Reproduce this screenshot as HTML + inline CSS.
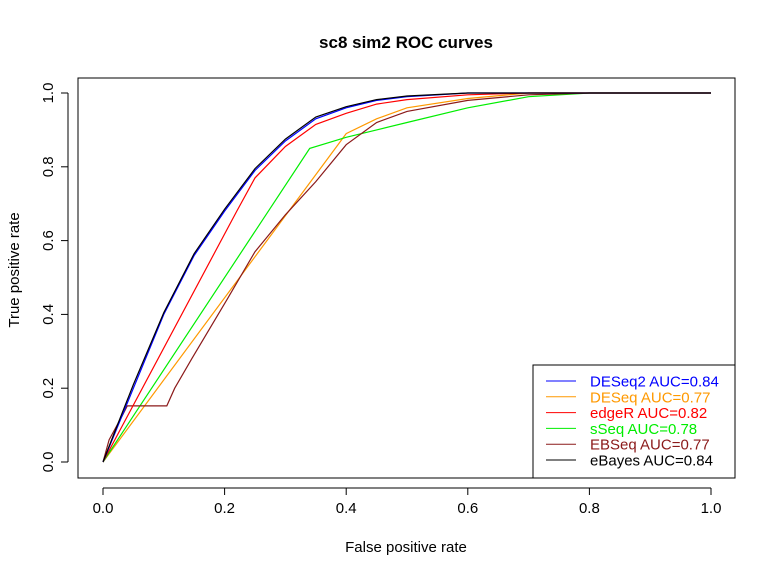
<!DOCTYPE html>
<html><head><meta charset="utf-8">
<style>body{margin:0;background:#fff}svg{display:block;font-family:"Liberation Sans",Arial,sans-serif}</style>
</head><body>
<svg id="chart" width="776" height="575">
<text x="406" y="48" text-anchor="middle" font-size="17" font-weight="bold">sc8 sim2 ROC curves</text>
<rect x="78" y="78" width="657" height="400" fill="none" stroke="#000"/>
<text x="406" y="552" text-anchor="middle" font-size="15">False positive rate</text>
<text transform="translate(19,270) rotate(-90)" text-anchor="middle" font-size="15">True positive rate</text>
<g id="axes"></g><g id="series"></g><g id="legend"></g>
</svg>
<script>
const ticks=[0,0.2,0.4,0.6,0.8,1.0];
const tickLabels=["0.0","0.2","0.4","0.6","0.8","1.0"];
const seriesNames=["DESeq2 AUC=0.84","DESeq AUC=0.77","edgeR AUC=0.82","sSeq AUC=0.78","EBSeq AUC=0.77","eBayes AUC=0.84"];
const seriesColors=["#0000ff","#ff9900","#ff0000","#00ee00","#8b1a1a","#000000"];
const fprDESeq2=[0,0.02,0.05,0.1,0.15,0.2,0.25,0.3,0.35,0.4,0.45,0.5,0.6,0.7,0.8,1];
const tprDESeq2=[0,0.08,0.2,0.4,0.56,0.68,0.79,0.87,0.93,0.96,0.98,0.99,1,1,1,1];
const fprDESeq=[0,0.4,0.45,0.5,0.6,0.7,1];
const tprDESeq=[0,0.89,0.93,0.96,0.985,1,1];
const fprEdgeR=[0,0.22,0.25,0.3,0.35,0.4,0.45,0.5,0.6,0.7,1];
const tprEdgeR=[0,0.68,0.77,0.855,0.915,0.945,0.97,0.982,0.995,1,1];
const fprSSeq=[0,0.34,0.4,0.45,0.5,0.6,0.7,0.8,1];
const tprSSeq=[0,0.85,0.88,0.9,0.92,0.96,0.99,1,1];
const fprEBSeq=[0,0.01,0.03,0.04,0.105,0.118,0.146,0.204,0.25,0.3,0.35,0.4,0.45,0.5,0.6,0.7,0.8,1];
const tprEBSeq=[0,0.06,0.12,0.152,0.152,0.2,0.28,0.44,0.57,0.67,0.76,0.86,0.92,0.95,0.98,0.995,1,1];
const fprEBayes=[0,0.02,0.05,0.1,0.15,0.2,0.25,0.3,0.35,0.4,0.45,0.5,0.6,0.7,0.8,1];
const tprEBayes=[0,0.085,0.21,0.405,0.565,0.685,0.795,0.875,0.935,0.963,0.982,0.992,1,1,1,1];
const X=v=>103+v*608, Y=v=>462-v*369;
const NS="http://www.w3.org/2000/svg";
const axes=document.getElementById('axes');
function mk(t,a,p){const e=document.createElementNS(NS,t);for(const k in a)e.setAttribute(k,a[k]);p.appendChild(e);return e;}
mk('line',{x1:X(0),x2:X(1),y1:488,y2:488,stroke:'#000'},axes);
mk('line',{x1:68,x2:68,y1:Y(0),y2:Y(1),stroke:'#000'},axes);
ticks.forEach((t,i)=>{
 mk('line',{x1:X(t),x2:X(t),y1:488,y2:495,stroke:'#000'},axes);
 const tx=mk('text',{x:X(t),y:513,'text-anchor':'middle','font-size':15},axes);tx.textContent=tickLabels[i];
 
 
 mk('line',{x1:61,x2:68,y1:Y(t),y2:Y(t),stroke:'#000'},axes);
 const ty=mk('text',{transform:`translate(53,${Y(t)}) rotate(-90)`,'text-anchor':'middle','font-size':15},axes);ty.textContent=tickLabels[i];
 
 
});
const sx=[fprDESeq2,fprDESeq,fprEdgeR,fprSSeq,fprEBSeq,fprEBayes];
const sy=[tprDESeq2,tprDESeq,tprEdgeR,tprSSeq,tprEBSeq,tprEBayes];
const sg=document.getElementById('series');
const order=[1,3,4,2,0,5];
order.forEach(i=>{
 const d=sx[i].map((v,j)=>(j?'L':'M')+X(v).toFixed(1)+' '+Y(sy[i][j]).toFixed(1)).join('');
 const p=mk('path',{d:d,fill:'none',stroke:seriesColors[i],'stroke-width':1.2},sg);
 
 
});
const lg=document.getElementById('legend');
const box=mk('rect',{x:533,y:365,width:202,height:113,fill:'#fff',stroke:'#000'},lg);


seriesNames.forEach((n,i)=>{
 const y=381+i*15.8;
 mk('line',{x1:546,x2:576,y1:y,y2:y,stroke:seriesColors[i]},lg);
 const t=mk('text',{x:590,y:y+5.5,'font-size':15,fill:seriesColors[i]},lg);t.textContent=n;
 
 
});
</script>
</body></html>
